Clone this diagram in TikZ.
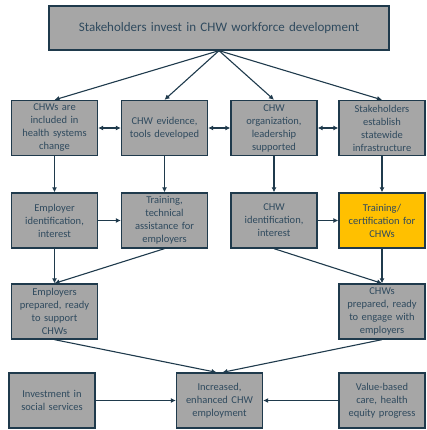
\documentclass[tikz,border=0pt]{standalone}
\usepackage{fontspec}
\setmainfont{Carlito}
\usepackage{xcolor}
\usetikzlibrary{positioning, arrows.meta}

\definecolor{boxgray}{HTML}{A6A6A6}
\definecolor{edgeblue}{HTML}{1F3A4C}
\definecolor{textblue}{HTML}{2F4A5E}
\definecolor{chwyellow}{HTML}{FFC000}

\tikzset{
  box/.style={draw=edgeblue, line width=1.3pt, fill=boxgray, text=textblue,
    minimum width=86pt, minimum height=55pt, text width=84pt, align=center,
    inner sep=1pt, font=\fontsize{10.5}{13}\selectfont},
  link/.style={draw=edgeblue, line width=1.1pt, -{Latex[length=5pt,width=5pt]}},
  twoway/.style={draw=edgeblue, line width=1.1pt,
    {Latex[length=5pt,width=5pt]}-{Latex[length=5pt,width=5pt]}}
}

\begin{document}
\begin{tikzpicture}[x=1pt, y=1pt]
    \useasboundingbox (0,0) rectangle (426,430);
    \def\rowa{302} % first row of boxes
    \def\rowb{209.5}
    \def\rowc{118.5}
    \def\rowd{29.5} % bottom row

    % Top box
    \node[box, minimum width=340pt, minimum height=44pt, text width=330pt,
      font=\fontsize{13}{15}\selectfont] (invest) at (219,402)
      {Stakeholders invest in CHW workforce development};

    % First row
    \foreach \name/\xpos/\txt in {
        systems/54.5/{CHWs are\\included in\\health systems\\change},
        evidence/164.5/{CHW evidence,\\tools developed},
        leader/274/{CHW\\organization,\\leadership\\supported},
        infra/382/{Stakeholders\\establish\\statewide\\infrastructure}} {
      \node[box] (\name) at (\xpos,\rowa) {\txt};
      \draw[link] (invest.south) -- (\name.north);
    }
    \draw[twoway] (systems) -- (evidence);
    \draw[twoway] (evidence) -- (leader);
    \draw[twoway] (leader) -- (infra);

    % Second row
    \node[box] (empid) at (54.5,\rowb) {Employer\\identification,\\interest};
    \node[box] (empta) at (164.5,\rowb) {Training,\\technical\\assistance for\\employers};
    \node[box] (chwid) at (274,\rowb) {CHW\\identification,\\interest};
    \node[box, fill=chwyellow] (chwcert) at (382,\rowb) {Training/\\certification for\\CHWs};
    \draw[link] (systems) -- (empid);
    \draw[link] (evidence) -- (empta);
    \draw[link] (leader) -- (chwid);
    \draw[link] (infra) -- (chwcert);
    \draw[link] (empid) -- (empta);
    \draw[link] (chwid) -- (chwcert);

    % Third row
    \node[box] (empready) at (54.5,\rowc) {Employers\\prepared, ready\\to support\\CHWs};
    \node[box] (chwready) at (382,\rowc) {CHWs\\prepared, ready\\to engage with\\employers};
    \draw[link] (empid) -- (empready);
    \draw[link] (empta.south) -- (empready.north);
    \draw[link] (chwid.south) -- (chwready.north);
    \draw[link] (chwcert) -- (chwready);

    % Bottom row
    \node[box] (social) at (52,\rowd) {Investment in\\social services};
    \node[box] (employ) at (219.5,\rowd) {Increased,\\enhanced CHW\\employment};
    \node[box] (equity) at (382,\rowd) {Value-based\\care, health\\equity progress};
    \draw[link] (empready.south) -- ([xshift=-3pt]employ.north);
    \draw[link] (chwready.south) -- ([xshift=3pt]employ.north);
    \draw[link] (social) -- (employ);
    \draw[link] (equity) -- (employ);
  \end{tikzpicture}
\end{document}
